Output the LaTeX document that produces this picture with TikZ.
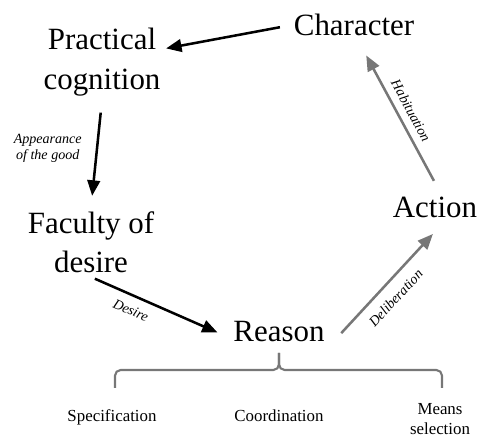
\documentclass[tikz,border=0pt]{standalone}
\usepackage{fontspec}
\setmainfont{Liberation Serif}
\usepackage{tikz}
\definecolor{gray600}{HTML}{777777}
\usetikzlibrary{arrows.meta}
\tikzstyle{concept}=[inner sep=1mm, align=center, font=\fontsize{22}{28}\selectfont]
\tikzstyle{aspect}=[inner sep=1mm, align=center, font=\fontsize{12}{14.5}\selectfont]
\tikzstyle{edgelabel}=[inner sep=2pt, align=center, font=\fontsize{10}{11}\selectfont\itshape]
\tikzstyle{relation}=[line width=1.8pt, -{Triangle[length=11pt,width=9pt]}]
\tikzstyle{brace}=[line width=1.5pt, draw=gray600, rounded corners=4pt]

\begin{document}
\begin{tikzpicture}[x=0.025cm, y=-0.025cm]
			\useasboundingbox (0,0) rectangle (480,438);
			\node[concept, anchor=base] (char) at (354,36) {Character};
			\node[concept] (prac) at (102,62) {Practical\\cognition};
			\node[concept] (fac) at (91,242) {Faculty of\\desire};
			\node[concept, anchor=base] (reas) at (279,342) {Reason};
			\node[concept, anchor=base] (act) at (435,218) {Action};
			\node[aspect, anchor=base] (spec) at (112,421) {Specification};
			\node[aspect, anchor=base] (coord) at (279,421) {Coordination};
			\node[aspect] (means) at (440,419) {Means\\selection};
			\coordinate (tip) at (279,353);
			\coordinate (bl) at (115,388);
			\coordinate (br) at (442,388);
			% cycle
			\draw[relation, shorten <=7pt, shorten >=1pt] (char.west) -- (prac.12);
			\draw[relation, shorten <=9pt, shorten >=8pt] (prac.south) -- node[edgelabel, left, xshift=-8pt, pos=0.45] {Appearance\\of the good} (fac.north);
			\draw[relation, shorten <=3pt, shorten >=9pt] (fac.south) -- node[edgelabel, below=4pt, sloped, pos=0.33] {Desire} ([yshift=-4pt]reas.west);
			\draw[relation, draw=gray600, shorten <=13pt, shorten >=11pt] (reas.south east) -- node[edgelabel, below=5pt, sloped, pos=0.48] {Deliberation} ([xshift=6pt]act.south);
			\draw[relation, draw=gray600, shorten <=10pt, shorten >=12pt] ([xshift=4pt]act.north) -- node[edgelabel, above=3pt, sloped] {Habituation} ([xshift=3pt]char.south);
			% bracket under reason
			\draw[brace] (bl) |- (tip |- 0,370) -- (tip);
			\draw[brace] (tip) -- (tip |- 0,370) -| (br);
		\end{tikzpicture}
\end{document}
